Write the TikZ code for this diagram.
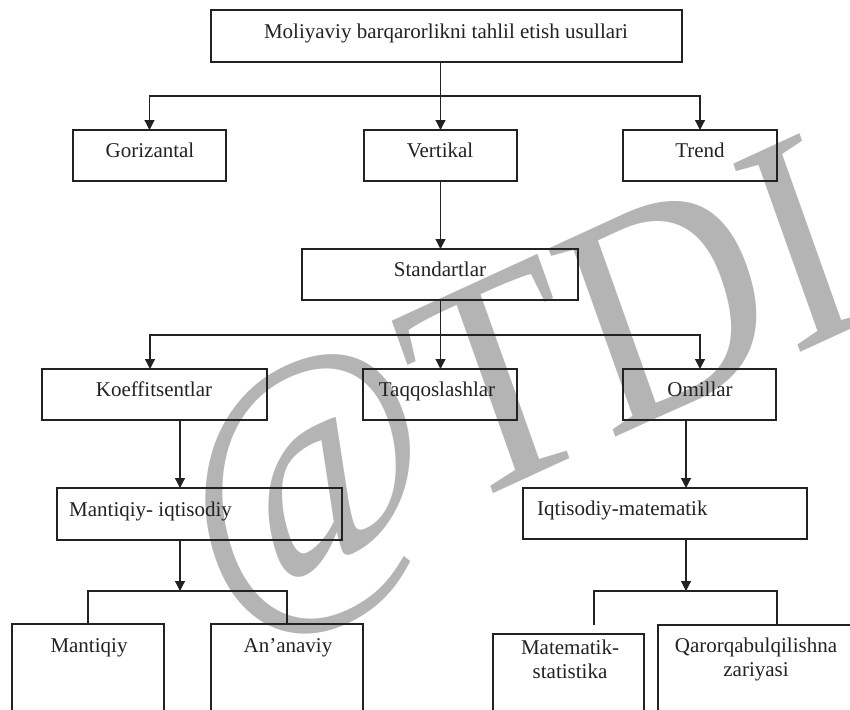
\documentclass[tikz,border=0pt]{standalone}
\usepackage{fontspec}
\setmainfont{Liberation Serif}
\usetikzlibrary{arrows.meta}
\definecolor{ink}{RGB}{34,34,34}
\definecolor{wmark}{RGB}{180,180,180}
\begin{document}
\begin{tikzpicture}[x=1pt,y=-1pt,
  box/.style args={#1x#2}{draw=ink, line width=1.2pt, inner sep=0pt, outer sep=0pt,
    anchor=north west, minimum width=#1pt, minimum height=#2pt},
  lbl/.style={font=\fontsize{21}{24}\selectfont, text=ink, inner sep=0pt, anchor=base},
  link/.style={draw=ink, line width=1.2pt},
  arr/.style={link, -{Triangle[length=10pt,width=10pt]}},
  wm/.style={font=\fontsize{310}{310}\selectfont, text=wmark, inner sep=0pt}]
\useasboundingbox (0,0) rectangle (850,709);
\fill[white] (0,0) rectangle (850,709);
\begin{scope}
\clip (0,0) rectangle (850,709);

% watermark behind the chart
\begin{scope}[shift={(524,400)}, xscale=0.88]
  \node[wm, rotate=22, transform shape] (stamp) at (0,0) {@TDI};
\end{scope}

% boxes
\node[box=471x52] (top) at (211,10) {};
\node[box=153x51] (gor) at (73,130) {};
\node[box=153x51] (vert) at (364,130) {};
\node[box=154x51] (trend) at (623,130) {};
\node[box=276x51] (std) at (302,249) {};
\node[box=225x51] (koef) at (42,369) {};
\node[box=154x51] (tq) at (363,369) {};
\node[box=153x51] (om) at (623,369) {};
\node[box=285x52] (mi) at (57,488) {};
\node[box=284x51] (im) at (523,488) {};
\node[box=152x120] (mant) at (12,624) {};
\node[box=152x120] (anan) at (211,624) {};
\node[box=151x120] (mat) at (493,634) {};
\node[box=220x120] (qar) at (658,625) {};

% labels
\node[lbl] (tTop) at (446,38) {Moliyaviy barqarorlikni tahlil etish usullari};
\node[lbl] (tGor) at (150,157) {Gorizantal};
\node[lbl] (tVert) at (440,157) {Vertikal};
\node[lbl] (tTrend) at (700,157) {Trend};
\node[lbl] (tStd) at (440,276) {Standartlar};
\node[lbl] (tKoef) at (154,396) {Koeffitsentlar};
\node[lbl] (tTq) at (437,396) {Taqqoslashlar};
\node[lbl] (tOm) at (700,396) {Omillar};
\node[lbl, anchor=base west] (tMi) at (69,516) {Mantiqiy- iqtisodiy};
\node[lbl, anchor=base west] (tIm) at (537,515) {Iqtisodiy-matematik};
\node[lbl] (tMant) at (89,652) {Mantiqiy};
\node[lbl] (tAnan) at (288,652) {An’anaviy};
\node[lbl] (tMat1) at (570,654) {Matematik-};
\node[lbl] (tMat2) at (570,678) {statistika};
\node[lbl] (tQar1) at (756,652) {Qarorqabulqilishna};
\node[lbl] (tQar2) at (756,676) {zariyasi};

% connectors
\coordinate (b1) at (440,96);
\coordinate (b2) at (440,335);
\coordinate (k2) at (150,335);
\coordinate (o2) at (700,335);
\coordinate (kd) at (180,0);
\coordinate (od) at (686,0);
\coordinate (j1) at (180,591);
\coordinate (j2) at (686,591);
\coordinate (ml) at (594,625);
\coordinate (qr) at (777,625);

\draw[arr] (vert.north |- top.south) -- (vert.north);
\draw[arr] (b1) -| (gor.north);
\draw[arr] (b1) -| (trend.north);
\draw[arr] (vert.south) -- (vert.south |- std.north);
\draw[arr] (vert.south |- std.south) -- (vert.south |- tq.north);
\draw[arr] (b2) -- (k2) -- (k2 |- koef.north);
\draw[arr] (b2) -- (o2) -- (o2 |- om.north);
\draw[arr] (kd |- koef.south) -- (kd |- mi.north);
\draw[arr] (od |- om.south) -- (od |- im.north);
\draw[arr] (kd |- mi.south) -- (j1);
\draw[link] (mant.north) |- (j1) -| (anan.north);
\draw[arr] (od |- im.south) -- (j2);
\draw[link] (ml) |- (j2) -| (qr);
\end{scope}
\end{tikzpicture}
\end{document}
